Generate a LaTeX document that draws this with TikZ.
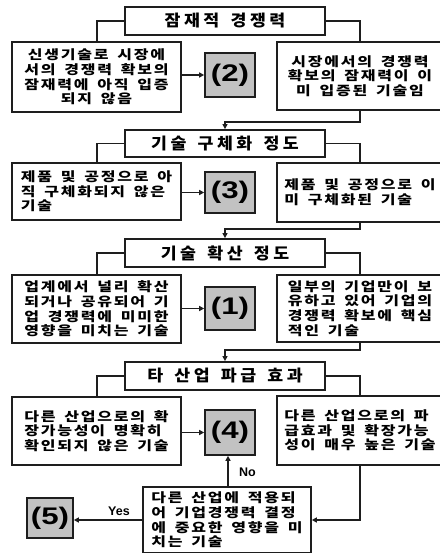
\documentclass[tikz,border=0pt]{standalone}
\usepackage{fontspec}
\usetikzlibrary{arrows.meta}
\newfontfamily\kbody{Noto Sans CJK KR}[FakeStretch=1.25,LetterSpace=14,WordSpace=1.6]
\newfontfamily\khead{Noto Sans CJK KR}[FakeStretch=1.08,LetterSpace=22,WordSpace=1.5]
\newfontfamily\numfont{Liberation Sans}
\definecolor{ink}{HTML}{1E1E1E}
\definecolor{numfill}{HTML}{C2C2C2}
\tikzset{
  conn/.style={draw=ink,line width=1.3pt},
  arr/.style={conn,-{Triangle[length=5pt,width=5pt]}},
  headbox/.style={draw=ink,line width=1.8pt,fill=white,minimum width=200pt,minimum height=28pt,inner sep=0pt,
    font=\khead\bfseries\fontsize{16}{18}\selectfont},
  txtbox/.style={draw=ink,line width=1.6pt,fill=white,inner sep=0pt,
    font=\kbody\bfseries\fontsize{12.8}{14.7}\selectfont},
  numbox/.style={draw=ink,line width=1.6pt,fill=numfill,minimum width=50pt,inner sep=0pt,
    font=\numfont\bfseries\fontsize{24}{24}\selectfont},
  lab/.style={font=\numfont\bfseries\fontsize{12.5}{13}\selectfont,inner sep=1pt}
}
\newcommand{\wnum}[1]{\scalebox{1.3}[1]{#1}}
\begin{document}
\begin{tikzpicture}[x=1pt,y=-1pt]
\useasboundingbox (0,0) rectangle (439,553);
\fill[white] (0,0) rectangle (439,553);
% row 1
\node[headbox] (h1) at (225,21) {잠재적 경쟁력};
\node[txtbox,minimum width=169pt,minimum height=70pt,align=center] (l1) at (96.5,77)
  {신생기술로 시장에\\서의 경쟁력 확보의\\잠재력에 아직 입증\\되지 않음};
\node[numbox,minimum height=44pt] (n2) at (230,75) {\wnum{(2)}};
\node[txtbox,minimum width=166pt,minimum height=68pt,align=center] (r1) at (360,76)
  {시장에서의 경쟁력\\확보의 잠재력이 이\\미 입증된 기술임};
% row 2
\node[headbox,minimum height=27pt] (h2) at (225,143.5) {기술 구체화 정도};
\node[txtbox,minimum width=169pt,minimum height=57pt,align=left] (l2) at (96.5,191.5)
  {제품 및 공정으로 아\\직 구체화되지 않은\\기술};
\node[numbox,minimum height=41pt] (n3) at (230,192.5) {\wnum{(3)}};
\node[txtbox,minimum width=166pt,minimum height=59pt,align=left] (r2) at (360,192.5)
  {제품 및 공정으로 이\\미 구체화된 기술};
% row 3
\node[headbox] (h3) at (225,253) {기술 확산 정도};
\node[txtbox,minimum width=169pt,minimum height=68pt,align=left] (l3) at (96.5,309)
  {업계에서 널리 확산\\되거나 공유되어 기\\업 경쟁력에 미미한\\영향을 미치는 기술};
\node[numbox,minimum height=43pt] (n1) at (230,308.5) {\wnum{(1)}};
\node[txtbox,minimum width=166pt,minimum height=67pt,align=left] (r3) at (360,308.5)
  {일부의 기업만이 보\\유하고 있어 기업의\\경쟁력 확보에 핵심\\적인 기술};
% row 4
\node[headbox] (h4) at (225,376) {타 산업 파급 효과};
\node[txtbox,minimum width=169pt,minimum height=68pt,align=left] (l4) at (96.5,431)
  {다른 산업으로의 확\\장가능성이 명확히\\확인되지 않은 기술};
\node[numbox,minimum height=45pt] (n4) at (230,432.5) {\wnum{(4)}};
\node[txtbox,minimum width=166pt,minimum height=69pt,align=left] (r4) at (360,430.5)
  {다른 산업으로의 파\\급효과 및 확장가능\\성이 매우 높은 기술};
% bottom
\node[txtbox,minimum width=168pt,minimum height=66pt,align=left] (b) at (227,520)
  {다른 산업에 적용되\\어 기업경쟁력 결정\\에 중요한 영향을 미\\치는 기술};
\node[numbox,minimum width=46pt,minimum height=40pt] (n5) at (50,518) {\wnum{(5)}};
% side connectors
\foreach \h/\l/\r in {h1/l1/r1,h2/l2/r2,h3/l3/r3,h4/l4/r4}{
  \draw[conn] (\h.west) -| (\l.north -| 97,0);
  \draw[conn] (\h.east) -| (\r.north -| 360,0);
}
% arrows to numbers
\draw[arr] (l1.east |- n2.center) -- (n2.west);
\draw[arr] (l2.east |- n3.center) -- (n3.west);
\draw[arr] (l3.east |- n1.center) -- (n1.west);
\draw[arr] (l4.east |- n4.center) -- (n4.west);
% downward connectors
\coordinate (c1) at (360,122);
\coordinate (c2) at (360,229);
\coordinate (c3) at (360,350);
\draw[arr] (r1.south -| c1) -- (c1) -| (h2.north);
\draw[arr] (r2.south -| c2) -- (c2) -| (h3.north);
\draw[arr] (r3.south -| c3) -- (c3) -| (h4.north);
\coordinate (c4) at (360,520);
\draw[arr] (r4.south -| c4) -- (c4) -- (b.east |- c4);
% yes / no
\draw[arr] (b.north -| 228,0) -- (n4.south -| 228,0);
\node[lab,anchor=west] (no) at (238,472) {No};
\draw[arr] (b.west |- 0,520) -- (n5.east |- 0,520);
\node[lab] (yes) at (119,511) {Yes};
\end{tikzpicture}
\end{document}
